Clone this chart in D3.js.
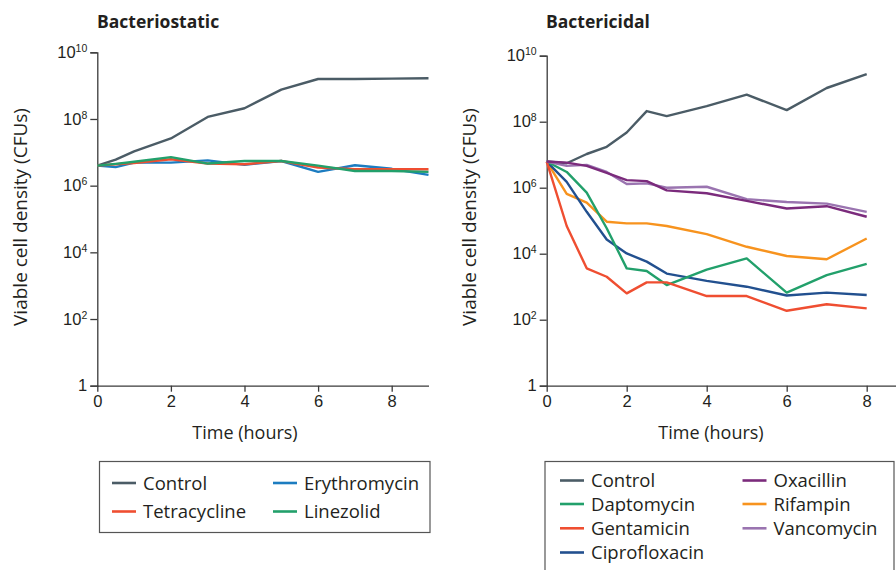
<!DOCTYPE html>
<html>
<head>
<meta charset="utf-8">
<script src="https://cdn.jsdelivr.net/npm/d3@7"></script>
<style>
  html, body { margin: 0; padding: 0; background: #fff; }
  svg { display: block; font-family: "Open Sans", "Noto Sans", sans-serif; }
</style>
</head>
<body>
<svg id="chart" width="896" height="570"></svg>
<script>
// ---------- Data ----------
const yTicks = [1, 1e2, 1e4, 1e6, 1e8, 1e10];
const xTicks = [0, 2, 4, 6, 8];

// Bacteriostatic panel
const staticTimes = [0, 0.5, 1, 2, 3, 4, 5, 6, 7, 8, 9];
const staticNames = ["Control", "Erythromycin", "Tetracycline", "Linezolid"];
const staticControl      = [4.0e6, 6.0e6, 1.07e7, 2.6e7, 1.15e8, 2.1e8, 7.6e8, 1.58e9, 1.58e9, 1.62e9, 1.66e9];
const staticErythromycin = [4.0e6, 3.6e6, 4.9e6, 4.9e6, 5.75e6, 4.2e6, 5.5e6, 2.6e6, 4.1e6, 3.2e6, 2.1e6];
const staticTetracycline = [4.0e6, 4.4e6, 4.8e6, 6.2e6, 4.6e6, 4.4e6, 5.5e6, 3.5e6, 3.1e6, 3.1e6, 3.1e6];
const staticLinezolid    = [4.0e6, 4.5e6, 5.2e6, 7.2e6, 4.6e6, 5.5e6, 5.5e6, 4.0e6, 2.75e6, 2.75e6, 2.6e6];

// Bactericidal panel
const cidalTimes = [0, 0.5, 1, 1.5, 2, 2.5, 3, 4, 5, 6, 7, 8];
const cidalNames = ["Control", "Daptomycin", "Gentamicin", "Ciprofloxacin", "Oxacillin", "Rifampin", "Vancomycin"];
const cidalControl       = [6.2e6, 5.5e6, 1.05e7, 1.74e7, 4.7e7, 2.1e8, 1.48e8, 2.95e8, 6.6e8, 2.24e8, 1.05e9, 2.75e9];
const cidalDaptomycin    = [6.2e6, 3.0e6, 7.1e5, 5.9e4, 3.6e3, 3.0e3, 1.12e3, 3.3e3, 7.2e3, 6.6e2, 2.24e3, 4.9e3];
const cidalGentamicin    = [6.2e6, 6.9e4, 3.6e3, 2.0e3, 6.3e2, 1.35e3, 1.35e3, 5.2e2, 5.2e2, 1.86e2, 2.95e2, 2.2e2];
const cidalCiprofloxacin = [6.2e6, 1.5e6, 1.86e5, 2.7e4, 1.02e4, 5.75e3, 2.5e3, 1.5e3, 1.0e3, 5.4e2, 6.6e2, 5.6e2];
const cidalOxacillin     = [6.2e6, 5.75e6, 4.6e6, 2.8e6, 1.7e6, 1.58e6, 8.3e5, 6.8e5, 4.0e5, 2.34e5, 2.75e5, 1.32e5];
const cidalRifampin      = [6.2e6, 6.5e5, 3.55e5, 9.3e4, 8.3e4, 8.3e4, 6.9e4, 3.9e4, 1.62e4, 8.5e3, 6.8e3, 2.9e4];
const cidalVancomycin    = [6.2e6, 4.6e6, 4.9e6, 3.0e6, 1.29e6, 1.35e6, 1.0e6, 1.07e6, 4.5e5, 3.7e5, 3.3e5, 1.86e5];

const colors = {
  Control: "#4b5c66",
  Erythromycin: "#1c7cc0",
  Tetracycline: "#ef4e31",
  Linezolid: "#22a06b",
  Daptomycin: "#22a06b",
  Gentamicin: "#ef4e31",
  Ciprofloxacin: "#22508f",
  Oxacillin: "#7b2b7c",
  Rifampin: "#f7931e",
  Vancomycin: "#9a74b0"
};

const staticSeries = [
  {name: "Control", values: staticControl},
  {name: "Erythromycin", values: staticErythromycin},
  {name: "Tetracycline", values: staticTetracycline},
  {name: "Linezolid", values: staticLinezolid}
];
const cidalSeries = [
  {name: "Control", values: cidalControl},
  {name: "Rifampin", values: cidalRifampin},
  {name: "Ciprofloxacin", values: cidalCiprofloxacin},
  {name: "Daptomycin", values: cidalDaptomycin},
  {name: "Gentamicin", values: cidalGentamicin},
  {name: "Vancomycin", values: cidalVancomycin},
  {name: "Oxacillin", values: cidalOxacillin}
];

const svg = d3.select("#chart");
const axisColor = "#3a3a3a";
const textColor = "#231f20";

function expLabel(sel, v) {
  const e = Math.round(Math.log10(v));
  sel.text(null);
  if (e === 0) { sel.append("tspan").text("1"); return; }
  sel.append("tspan").text("10");
  sel.append("tspan").attr("dy", -6).attr("font-size", 10.5).text(e);
}

function panel(opts) {
  const g = svg.append("g");
  const x = d3.scaleLinear().domain(opts.xDomain).range(opts.xRange);
  const y = d3.scaleLog().domain([1, 1e10]).range(opts.yRange);

  // title
  g.append("text").attr("x", opts.titleX).attr("y", 28)
    .attr("font-weight", 700).attr("font-size", 17.5).attr("fill", textColor)
    .text(opts.title);

  // y axis
  const ya = g.append("g").attr("transform", `translate(${opts.xRange[0]},0)`)
    .call(d3.axisLeft(y).tickValues(yTicks).tickSize(7).tickPadding(3).tickFormat(""));
  ya.select(".domain").attr("stroke", axisColor).attr("stroke-width", 1.3);
  ya.selectAll(".tick line").attr("stroke", axisColor).attr("stroke-width", 1.3);
  ya.selectAll(".tick text").each(function(d) { expLabel(d3.select(this), d); })
    .attr("font-size", 16.5).attr("fill", textColor).attr("font-family", null);

  // x axis
  const xa = g.append("g").attr("transform", `translate(0,${opts.yRange[0]})`)
    .call(d3.axisBottom(x).tickValues(xTicks).tickSize(6).tickPadding(4).tickSizeOuter(0));
  xa.select(".domain").attr("stroke", axisColor).attr("stroke-width", 1.3);
  xa.selectAll(".tick line").attr("stroke", axisColor).attr("stroke-width", 1.3);
  xa.selectAll(".tick text").attr("font-size", 16.5).attr("fill", textColor).attr("font-family", null);

  // axis titles
  g.append("text").attr("x", opts.xTitleX).attr("y", 439).attr("text-anchor", "middle")
    .attr("font-size", 18).attr("fill", textColor).text("Time (hours)");
  g.append("text").attr("transform", `translate(${opts.yTitleX},217) rotate(-90)`)
    .attr("text-anchor", "middle").attr("font-size", 19).attr("fill", textColor)
    .text("Viable cell density (CFUs)");

  // lines
  const line = d3.line().x((d, i) => x(opts.times[i])).y(d => y(d));
  g.append("g").selectAll("path").data(opts.series).join("path")
    .attr("d", d => line(d.values))
    .attr("fill", "none")
    .attr("stroke", d => colors[d.name])
    .attr("stroke-width", 2.4)
    .attr("stroke-linejoin", "round");

  // legend
  const lg = g.append("g");
  lg.append("rect").attr("x", opts.legend.x).attr("y", opts.legend.y)
    .attr("width", opts.legend.w).attr("height", opts.legend.h)
    .attr("fill", "none").attr("stroke", "#555").attr("stroke-width", 1.2);
  opts.legend.items.forEach(it => {
    lg.append("line").attr("x1", it.x).attr("x2", it.x + 24)
      .attr("y1", it.y).attr("y2", it.y)
      .attr("stroke", colors[it.name]).attr("stroke-width", 2.6);
    lg.append("text").attr("x", it.x + 31).attr("y", it.y + 6.5)
      .attr("font-size", 18.5).attr("fill", textColor).text(it.name);
  });
}

panel({
  title: "Bacteriostatic", titleX: 97,
  xDomain: [0, 9], xRange: [97.3, 428.5],
  yRange: [385.7, 52.3],
  xTitleX: 245, yTitleX: 27,
  times: staticTimes,
  series: staticSeries,
  legend: {
    x: 99.5, y: 461.5, w: 330.5, h: 71,
    items: [
      {name: staticNames[0], x: 112, y: 483},
      {name: staticNames[2], x: 112, y: 511.5},
      {name: staticNames[1], x: 273, y: 483},
      {name: staticNames[3], x: 273, y: 511.5}
    ]
  }
});

panel({
  title: "Bactericidal", titleX: 546,
  xDomain: [0, 8.75], xRange: [546.7, 896.7],
  yRange: [385.7, 55.7],
  xTitleX: 711, yTitleX: 476,
  times: cidalTimes,
  series: cidalSeries,
  legend: {
    x: 545, y: 461.5, w: 349, h: 130,
    items: [
      {name: cidalNames[0], x: 560, y: 480.5},
      {name: cidalNames[1], x: 560, y: 504},
      {name: cidalNames[2], x: 560, y: 528.3},
      {name: cidalNames[3], x: 560, y: 552.5},
      {name: cidalNames[4], x: 742.5, y: 480.5},
      {name: cidalNames[5], x: 742.5, y: 504},
      {name: cidalNames[6], x: 742.5, y: 528.3}
    ]
  }
});
</script>
</body>
</html>
